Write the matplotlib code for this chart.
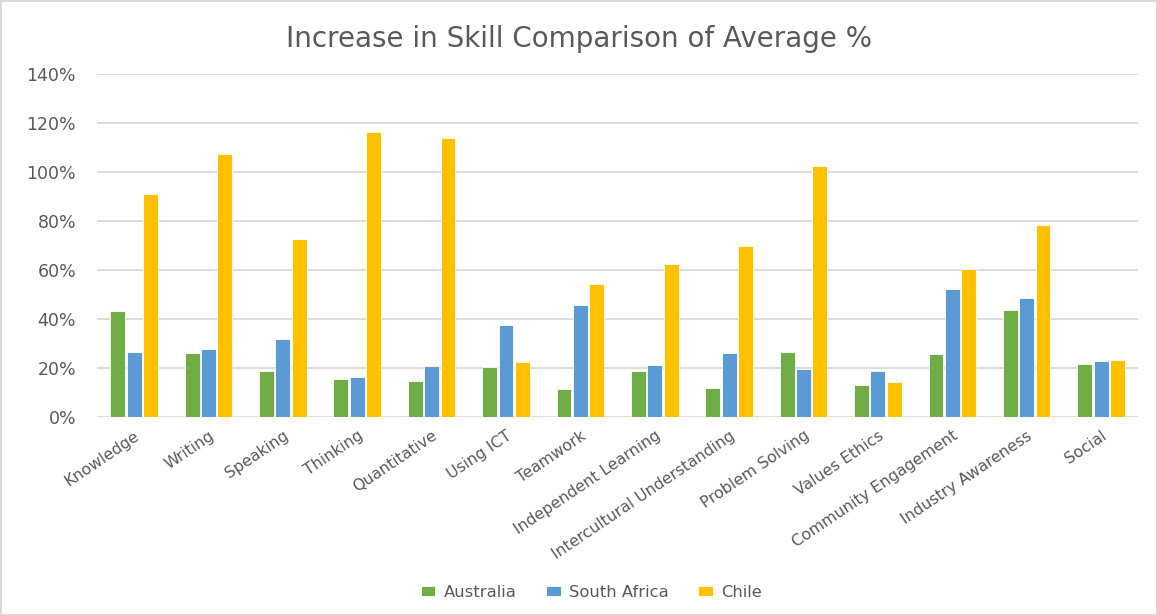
import matplotlib.pyplot as plt
import numpy as np
from matplotlib.ticker import PercentFormatter

plt.rcParams['font.family'] = ['DejaVu Sans']

skills = ["Knowledge", "Writing", "Speaking", "Thinking", "Quantitative",
          "Using ICT", "Teamwork", "Independent Learning",
          "Intercultural Understanding", "Problem Solving", "Values Ethics",
          "Community Engagement", "Industry Awareness", "Social"]
australia = [43.4, 25.9, 18.9, 15.5, 14.5, 20.3, 11.3, 18.9, 11.7, 26.4, 13.2, 25.5, 43.5, 21.7]
south_africa = [26.4, 27.9, 31.8, 16.2, 20.7, 37.5, 45.5, 21.4, 25.9, 19.6, 18.9, 52.1, 48.7, 22.8]
chile = [90.9, 107.4, 72.7, 116.2, 113.7, 22.4, 54.1, 62.4, 69.7, 102.4, 14.2, 60.4, 78.3, 23.4]

series = [("Australia", australia, "#70ad47"),
          ("South Africa", south_africa, "#5b9bd5"),
          ("Chile", chile, "#ffc000")]

fig = plt.figure(figsize=(11.57, 6.15), dpi=100)
fig.patch.set_edgecolor("#d9d9d9")
fig.patch.set_linewidth(2)
ax = fig.add_axes([0.0838, 0.322, 0.90, 0.558])

x = np.arange(len(skills))
w = 0.2
for i, (name, vals, col) in enumerate(series):
    ax.bar(x + (i - 1) * 0.22, vals, width=w, color=col, label=name,
           edgecolor="white", linewidth=0.6, zorder=3)

ax.set_xlim(-0.5, len(skills) - 0.5)
ax.set_ylim(0, 140)
ax.set_yticks(range(0, 141, 20))
ax.yaxis.set_major_formatter(PercentFormatter(decimals=0))
ax.grid(axis="y", color="#d9d9d9", linewidth=1.3, zorder=0)
for s in ax.spines.values():
    s.set_visible(False)
ax.tick_params(axis="both", length=0, colors="#595959")
ax.tick_params(axis="y", pad=15, labelsize=12.5)
ax.tick_params(axis="x", pad=8, labelsize=11.3)
ax.set_xticks(x)
ax.set_xticklabels(skills, rotation=34, ha="right", rotation_mode="anchor")

fig.text(0.5, 0.936, "Increase in Skill Comparison of Average %", ha="center",
         va="center", fontsize=20, color="#595959")

fig.legend(loc="center", bbox_to_anchor=(0.511, 0.037), ncol=3, frameon=False,
           fontsize=11.8, labelcolor="#595959", handlelength=0.9, handleheight=0.6,
           columnspacing=1.8, handletextpad=0.5)

fig.savefig("out.png", dpi=100)
